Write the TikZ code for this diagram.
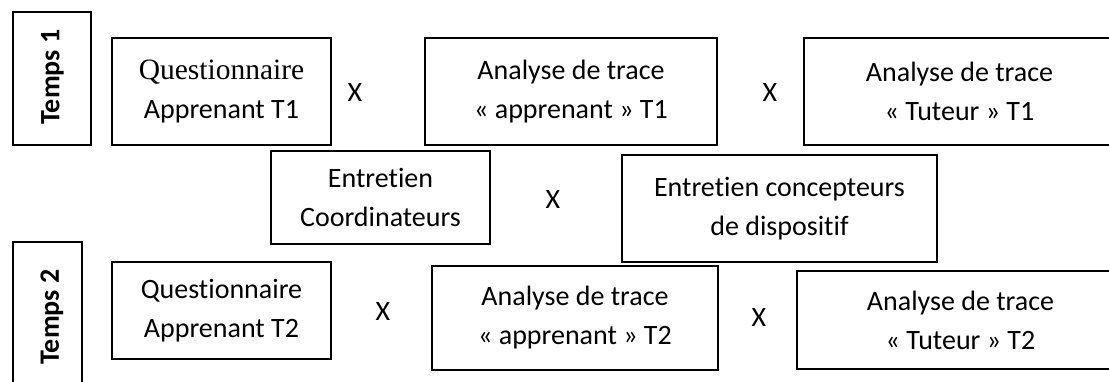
\documentclass[tikz,border=0pt]{standalone}
\usepackage{fontspec}
\setmainfont[RawFeature={-liga}]{Carlito}
\newfontfamily\timesfont{Liberation Serif}
\begin{document}
\begin{tikzpicture}[x=1pt,y=-1pt,
  box/.style={draw=black,line width=1.5pt,inner sep=0pt,align=center,font=\fontsize{28}{39}\selectfont},
  tempsbox/.style={draw=black,line width=1.5pt,inner sep=0pt},
  tempslabel/.style={rotate=90,font=\fontsize{28}{34}\selectfont\bfseries,inner sep=0pt},
  cross/.style={inner sep=0pt,font=\fontsize{28}{34}\selectfont}]
\useasboundingbox (0,0) rectangle (1109,381);
\clip (0,0) rectangle (1109,381);
% Temps boxes
\node[tempsbox,minimum width=78pt,minimum height=133pt] (temps1) at (52,78.5) {};
\node[tempslabel] (temps1label) at (52.5,77) {Temps 1};
\node[tempsbox,minimum width=69pt,minimum height=150pt] (temps2) at (47.5,317) {};
\node[tempslabel] (temps2label) at (52,317) {Temps 2};
% Row 1
\node[box,minimum width=219pt,minimum height=107pt] (q1) at (221.5,91.5) {{\timesfont\fontsize{29.5}{39}\selectfont Questionnaire}\\Apprenant T1};
\node[cross] (x1) at (355,93) {X};
\node[box,minimum width=292pt,minimum height=107pt] (a1) at (571,91.5) {Analyse de trace\\« apprenant » T1};
\node[cross] (x2) at (770,93) {X};
\node[box,minimum width=311pt,minimum height=107pt] (t1) at (959.5,91.5) {Analyse de trace\\« Tuteur » T1};
% Row 2
\node[box,minimum width=219pt,minimum height=93pt] (ec) at (380.5,197.5) {Entretien\\Coordinateurs};
\node[cross] (x3) at (553,200) {X};
\node[box,minimum width=315pt,minimum height=107pt] (ep) at (779.5,208.5) {Entretien concepteurs\\de dispositif};
% Row 3
\node[box,minimum width=219pt,minimum height=97pt] (q2) at (221.5,310.5) {Questionnaire\\Apprenant T2};
\node[cross] (x4) at (383,312) {X};
\node[box,minimum width=286pt,minimum height=104pt] (a2) at (575,318) {Analyse de trace\\« apprenant » T2};
\node[cross] (x5) at (759,318) {X};
\node[box,minimum width=327pt,minimum height=98pt] (t2) at (960.5,320) {Analyse de trace\\« Tuteur » T2};
\end{tikzpicture}
\end{document}
